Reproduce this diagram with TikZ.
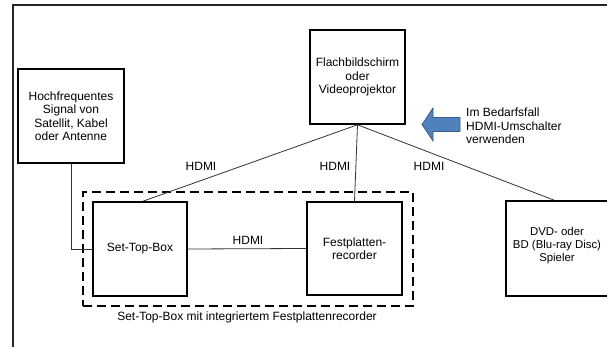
\documentclass[tikz,border=0pt]{standalone}
\usepackage{fontspec}
\setmainfont{Liberation Sans}
\usetikzlibrary{calc}
\definecolor{arrowfill}{HTML}{4F81BD}
\definecolor{arrowline}{HTML}{385D8A}
\begin{document}
\begin{tikzpicture}[x=1pt,y=-1pt,
  box/.style={draw=black,line width=1.6pt,inner sep=0pt,align=center,
    font=\fontsize{12}{13.5}\selectfont},
  lbl/.style={inner sep=0pt,align=left,font=\fontsize{12}{13.5}\selectfont},
  conn/.style={draw=black!80,line width=0.8pt},
  grpbox/.style={draw=black,line width=1.6pt,dash pattern=on 9pt off 5pt,inner sep=0pt}]
\clip (0,0) rectangle (607,347);
\fill[white] (0,0) rectangle (607,347);
% outer frame
\draw[line width=2pt,black!85] (13,5) rectangle (700,420);
% nodes
\node[box,minimum width=106pt,minimum height=94pt] (hf) at (71,116)
  {Hochfrequentes\\Signal von\\Satellit, Kabel\\oder Antenne};
\node[box,minimum width=95pt,minimum height=94pt] (disp) at (357.5,77)
  {Flachbildschirm\\oder\\Videoprojektor};
\node[grpbox,minimum width=330pt,minimum height=114pt] (grp) at (248,249) {};
\node[box,minimum width=94pt,minimum height=94pt] (stb) at (140,249) {Set-Top-Box};
\node[box,minimum width=95pt,minimum height=93pt] (fp) at (354.5,248.5)
  {Festplatten-\\recorder};
\node[box,minimum width=118pt,minimum height=95pt] (dvd) at (565,248.5) {};
\node[inner sep=0pt,align=center,font=\fontsize{11.4}{13}\selectfont] (dvdtext) at (557,246)
  {DVD- oder\\BD (Blu-ray Disc)\\Spieler};
\node[lbl,anchor=north] (cap) at (247,312) {Set-Top-Box mit integriertem Festplattenrecorder};
% connectors
\coordinate (stbtop) at ($(stb.north)+(3,0)$);
\coordinate (dvdtop) at ($(dvd.north west)+(49,0)$);
\draw[conn] (disp.south) -- (stbtop);
\draw[conn] (disp.south) -- (fp.north);
\draw[conn] (disp.south) -- (dvdtop);
\draw[conn] (hf.south) |- (stb.west);
\draw[conn] (stb.east) -- (fp.west);
% HDMI labels
\node[lbl] (h1) at (201,166) {HDMI};
\node[lbl] (h2) at (335,166) {HDMI};
\node[lbl] (h3) at (429,166) {HDMI};
\node[lbl] (h4) at (248,240) {HDMI};
% arrow
\draw[fill=arrowfill,draw=arrowline,line width=0.8pt,line join=miter]
  (422,124.5) -- (433,108) -- (433,117.5) -- (460,117.5) -- (460,131.5)
  -- (433,131.5) -- (433,141) -- cycle;
\node[lbl,anchor=west] (note) at (466,126)
  {Im Bedarfsfall\\HDMI-Umschalter\\verwenden};
\end{tikzpicture}
\end{document}
